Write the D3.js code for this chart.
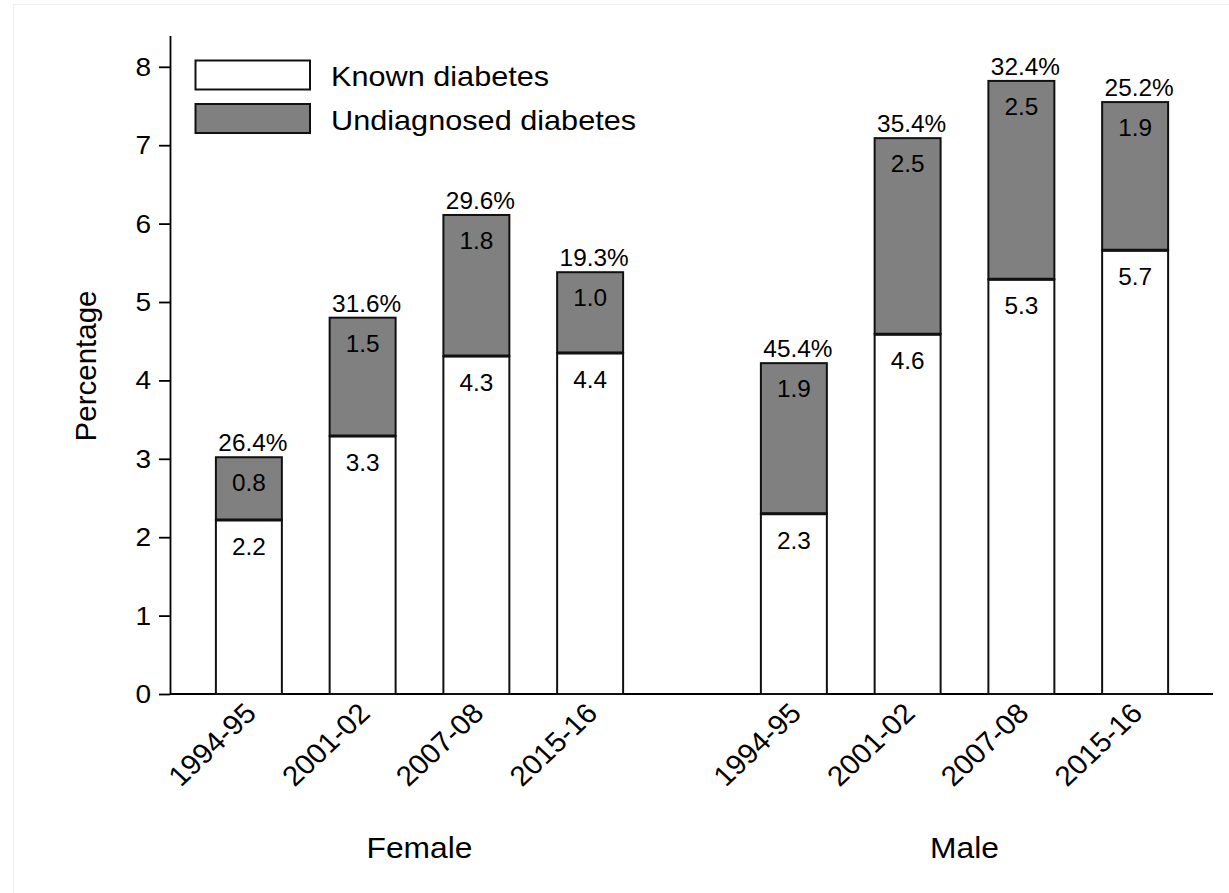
<!DOCTYPE html>
<html>
<head>
<meta charset="utf-8">
<script src="https://cdn.jsdelivr.net/npm/d3@7"></script>
<style>
  html, body { margin: 0; padding: 0; background: #fff; }
  svg text { font-family: "Liberation Sans", Arial, sans-serif; fill: #000; }
</style>
</head>
<body>
<svg id="chart" width="1229" height="893"></svg>
<script>
// ---- data ----
const groups = ["Female", "Male"];
const years = ["1994-95", "2001-02", "2007-08", "2015-16"];
const knownFemale = [2.22, 3.29, 4.31, 4.35];
const knownMale = [2.30, 4.59, 5.29, 5.66];
const undiagFemale = [0.80, 1.51, 1.80, 1.03];
const undiagMale = [1.92, 2.50, 2.53, 1.89];
const knownLabelsFemale = ["2.2", "3.3", "4.3", "4.4"];
const knownLabelsMale = ["2.3", "4.6", "5.3", "5.7"];
const undiagLabelsFemale = ["0.8", "1.5", "1.8", "1.0"];
const undiagLabelsMale = ["1.9", "2.5", "2.5", "1.9"];
const pctLabelsFemale = ["26.4%", "31.6%", "29.6%", "19.3%"];
const pctLabelsMale = ["45.4%", "35.4%", "32.4%", "25.2%"];
const yTicks = [0, 1, 2, 3, 4, 5, 6, 7, 8];
const seriesNames = ["Known diabetes", "Undiagnosed diabetes"];
const seriesColors = ["#ffffff", "#808080"];

const rows = [];
groups.forEach((g, gi) => {
  const kn = gi === 0 ? knownFemale : knownMale;
  const un = gi === 0 ? undiagFemale : undiagMale;
  const kl = gi === 0 ? knownLabelsFemale : knownLabelsMale;
  const ul = gi === 0 ? undiagLabelsFemale : undiagLabelsMale;
  const pl = gi === 0 ? pctLabelsFemale : pctLabelsMale;
  years.forEach((y, i) => rows.push({group: g, year: y, known: kn[i], undiag: un[i], kl: kl[i], ul: ul[i], pl: pl[i]}));
});

// ---- layout ----
const svg = d3.select("#chart");
const SX = 1.06; // slight horizontal text stretch
const x0 = 170, yBase = 694;

svg.append("rect").attr("x", 13.5).attr("y", 4.5).attr("width", 1240).attr("height", 900)
  .attr("fill", "none").attr("stroke", "#efefef").attr("stroke-width", 1);

const y = d3.scaleLinear().domain([0, 8.4]).range([yBase, yBase - 8.4 * 78.4]);
const xg = d3.scaleBand().domain(groups).range([192, 1192]).paddingInner(90 / 545).paddingOuter(0);
const xi = d3.scaleBand().domain(years).range([0, xg.bandwidth()]).paddingInner(0.42).paddingOuter(0.21);
const cx = d => xg(d.group) + xi(d.year) + xi.bandwidth() / 2;
const bx = d => xg(d.group) + xi(d.year);

// y axis
const yAxis = d3.axisLeft(y).tickValues(yTicks).tickSize(11).tickSizeOuter(0).tickFormat(d3.format("d"));
const ya = svg.append("g").attr("transform", `translate(${x0},0)`).call(yAxis);
ya.select(".domain").attr("stroke", "#000").attr("stroke-width", 1.8);
ya.selectAll(".tick line").attr("stroke", "#000").attr("stroke-width", 1.8);
ya.selectAll(".tick text").remove();
yTicks.forEach(t => {
  svg.append("text")
    .attr("transform", `translate(151,${y(t) + 9}) scale(1.1,1)`)
    .attr("text-anchor", "end").attr("font-size", 25.5).text(t);
});

// x axis line
svg.append("line").attr("x1", x0).attr("x2", 1213).attr("y1", yBase).attr("y2", yBase)
  .attr("stroke", "#000").attr("stroke-width", 1.8);

// bars
const bars = svg.append("g");
bars.selectAll("rect.known").data(rows).join("rect").attr("class", "known")
  .attr("x", bx).attr("width", xi.bandwidth())
  .attr("y", d => y(d.known)).attr("height", d => y(0) - y(d.known))
  .attr("fill", seriesColors[0]).attr("stroke", "#111").attr("stroke-width", 2);
bars.selectAll("rect.undiag").data(rows).join("rect").attr("class", "undiag")
  .attr("x", bx).attr("width", xi.bandwidth())
  .attr("y", d => y(d.known + d.undiag)).attr("height", d => y(d.known) - y(d.known + d.undiag))
  .attr("fill", seriesColors[1]).attr("stroke", "#111").attr("stroke-width", 2);
bars.selectAll("line.boundary").data(rows).join("line").attr("class", "boundary")
  .attr("x1", bx).attr("x2", d => bx(d) + xi.bandwidth())
  .attr("y1", d => y(d.known)).attr("y2", d => y(d.known))
  .attr("stroke", "#111").attr("stroke-width", 3);

// value labels
const lab = (sel, fy, key, dx) => sel.data(rows).join("text")
  .attr("transform", d => `translate(${cx(d) + dx},${fy(d)}) scale(${SX},1)`)
  .attr("text-anchor", "middle").attr("font-size", 23).text(d => d[key]);
lab(svg.append("g").selectAll("text"), d => y(d.known + d.undiag) - 6, "pl", 4);
lab(svg.append("g").selectAll("text"), d => y(d.known + d.undiag) + 34, "ul", 0);
lab(svg.append("g").selectAll("text"), d => y(d.known) + 35, "kl", 0);

// x tick labels
svg.append("g").selectAll("text").data(rows).join("text")
  .attr("transform", d => `translate(${cx(d) + 9},${yBase + 21}) scale(${SX},1) rotate(-45)`)
  .attr("text-anchor", "end").attr("font-size", 28).text(d => d.year);

// group labels
svg.append("g").selectAll("text").data(groups).join("text")
  .attr("transform", g => `translate(${xg(g) + xg.bandwidth() / 2},858) scale(${SX},1)`)
  .attr("text-anchor", "middle").attr("font-size", 30).text(g => g);

// y title
svg.append("text").attr("transform", "translate(96,366) rotate(-90)")
  .attr("text-anchor", "middle").attr("font-size", 29.5).text("Percentage");

// legend
const legY = [60.5, 104];
seriesNames.forEach((n, i) => {
  svg.append("rect").attr("x", 195.5).attr("y", legY[i]).attr("width", 114.5).attr("height", 29)
    .attr("fill", seriesColors[i]).attr("stroke", "#111").attr("stroke-width", 2);
  svg.append("text").attr("transform", `translate(331,${legY[i] + 25.5}) scale(1.095,1)`)
    .attr("font-size", 28).text(n);
});
</script>
</body>
</html>
